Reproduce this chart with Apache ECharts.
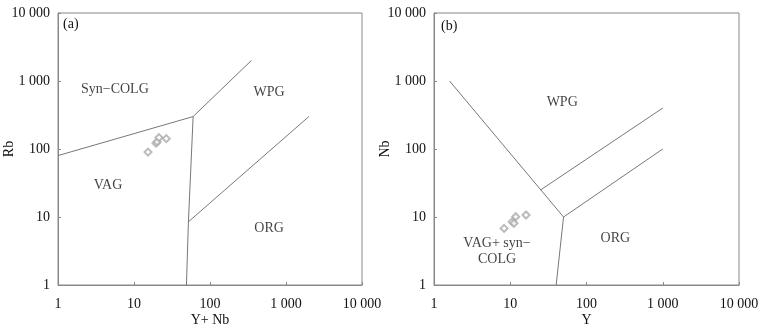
<!DOCTYPE html>
<html>
<head>
<meta charset="utf-8">
<script src="https://cdn.jsdelivr.net/npm/echarts@6/dist/echarts.min.js"></script>
<style>
  html, body { margin: 0; padding: 0; background: #fff; }
  #chart { width: 771px; height: 329px; }
</style>
</head>
<body>
<div id="chart"></div>
<script>
// 图(a) Rb - (Y+Nb) 边界线
const aVagSyn = [[1, 80], [60, 300]];
const aSynWpg = [[60, 300], [350, 2000]];
const aVagWpg = [[60, 300], [52, 8.5], [49, 1]];
const aWpgOrg = [[52, 8.5], [2000, 300]];
// 图(a) 样品点
const aSamples = [[15.3, 90], [19.5, 122], [20.2, 128], [21.3, 147], [26.6, 142]];

// 图(b) Nb - Y 边界线
const bLeft = [[1.6, 1000], [50, 10], [40, 1]];
const bWpgOrg = [[50, 10], [1000, 100]];
const bWpgVag = [[25, 25], [1000, 400]];
// 图(b) 样品点
const bSamples = [[8.3, 6.8], [10.6, 8.5], [11.2, 8.1], [11.8, 10.1], [16.1, 10.7]];

// 区域名称
const aNames = [
  { name: "Syn−COLG", value: [5.6, 760] },
  { name: "WPG", value: [600, 690] },
  { name: "VAG", value: [4.55, 29.5] },
  { name: "ORG", value: [600, 6.9] },
];
const bNames = [
  { name: "WPG", value: [48, 490] },
  { name: "ORG", value: [239, 4.9] },
  { name: "VAG+ syn−\nCOLG", value: [6.7, 3.1] },
];

// 刻度
const ticks = [1, 10, 100, 1000, 10000];

const font = "Liberation Serif";
const fmt = (v) => (v >= 1000 ? String(v).replace(/\B(?=(\d{3})+$)/g, " ") : String(v));

const myChart = echarts.init(document.querySelector("#chart"));

const makeX = (idx, name) => ({
  type: "log",
  logBase: 10,
  gridIndex: idx,
  min: ticks[0],
  max: ticks[ticks.length - 1],
  name: name,
  nameLocation: "middle",
  nameGap: 28,
  nameMoveOverlap: false,
  nameTextStyle: { fontFamily: font, fontSize: 14, color: "#111" },
  axisLine: { lineStyle: { color: "#888" } },
  axisTick: { inside: true, length: 3, lineStyle: { color: "#888" } },
  axisLabel: { fontFamily: font, fontSize: 14, color: "#111", margin: 12, formatter: fmt },
  splitLine: { show: false },
});

const makeY = (idx, name) => ({
  type: "log",
  logBase: 10,
  gridIndex: idx,
  min: ticks[0],
  max: ticks[ticks.length - 1],
  name: name,
  nameLocation: "middle",
  nameGap: 42,
  nameMoveOverlap: false,
  nameTextStyle: { fontFamily: font, fontSize: 14, color: "#111" },
  axisLine: { lineStyle: { color: "#888" } },
  axisTick: { inside: true, length: 3, lineStyle: { color: "#888" } },
  axisLabel: { fontFamily: font, fontSize: 14, color: "#111", margin: 8, formatter: fmt },
  splitLine: { show: false },
});

const line = (idx, data) => ({
  type: "line",
  xAxisIndex: idx,
  yAxisIndex: idx,
  data: data,
  symbol: "none",
  silent: true,
  lineStyle: { color: "#777", width: 1 },
});

const dots = (idx, data) => ({
  type: "scatter",
  xAxisIndex: idx,
  yAxisIndex: idx,
  data: data,
  symbol: "emptyDiamond",
  symbolSize: 7,
  itemStyle: { color: "#aaa", borderWidth: 0.7 },
});

const names = (idx, data) => ({
  type: "scatter",
  xAxisIndex: idx,
  yAxisIndex: idx,
  data: data,
  symbolSize: 0,
  silent: true,
  label: {
    show: true,
    position: "inside",
    formatter: "{b}",
    fontFamily: font,
    fontSize: 14,
    lineHeight: 16,
    color: "#111",
  },
});

myChart.setOption({
  animation: false,
  grid: [
    { left: 58, top: 13, width: 304, height: 272, outerBoundsMode: "none", show: true, borderColor: "#888", borderWidth: 1 },
    { left: 434, top: 13, width: 305, height: 272, outerBoundsMode: "none", show: true, borderColor: "#888", borderWidth: 1 },
  ],
  xAxis: [makeX(0, "Y+ Nb"), makeX(1, "Y")],
  yAxis: [makeY(0, "Rb"), makeY(1, "Nb")],
  graphic: [
    { type: "text", left: 63, top: 17, style: { text: "(a)", fontFamily: font, fontSize: 14, fill: "#111" } },
    { type: "text", left: 441, top: 19, style: { text: "(b)", fontFamily: font, fontSize: 14, fill: "#111" } },
  ],
  series: [
    line(0, aVagSyn),
    line(0, aSynWpg),
    line(0, aVagWpg),
    line(0, aWpgOrg),
    dots(0, aSamples),
    names(0, aNames),
    line(1, bLeft),
    line(1, bWpgOrg),
    line(1, bWpgVag),
    dots(1, bSamples),
    names(1, bNames),
  ],
});
</script>
</body>
</html>
